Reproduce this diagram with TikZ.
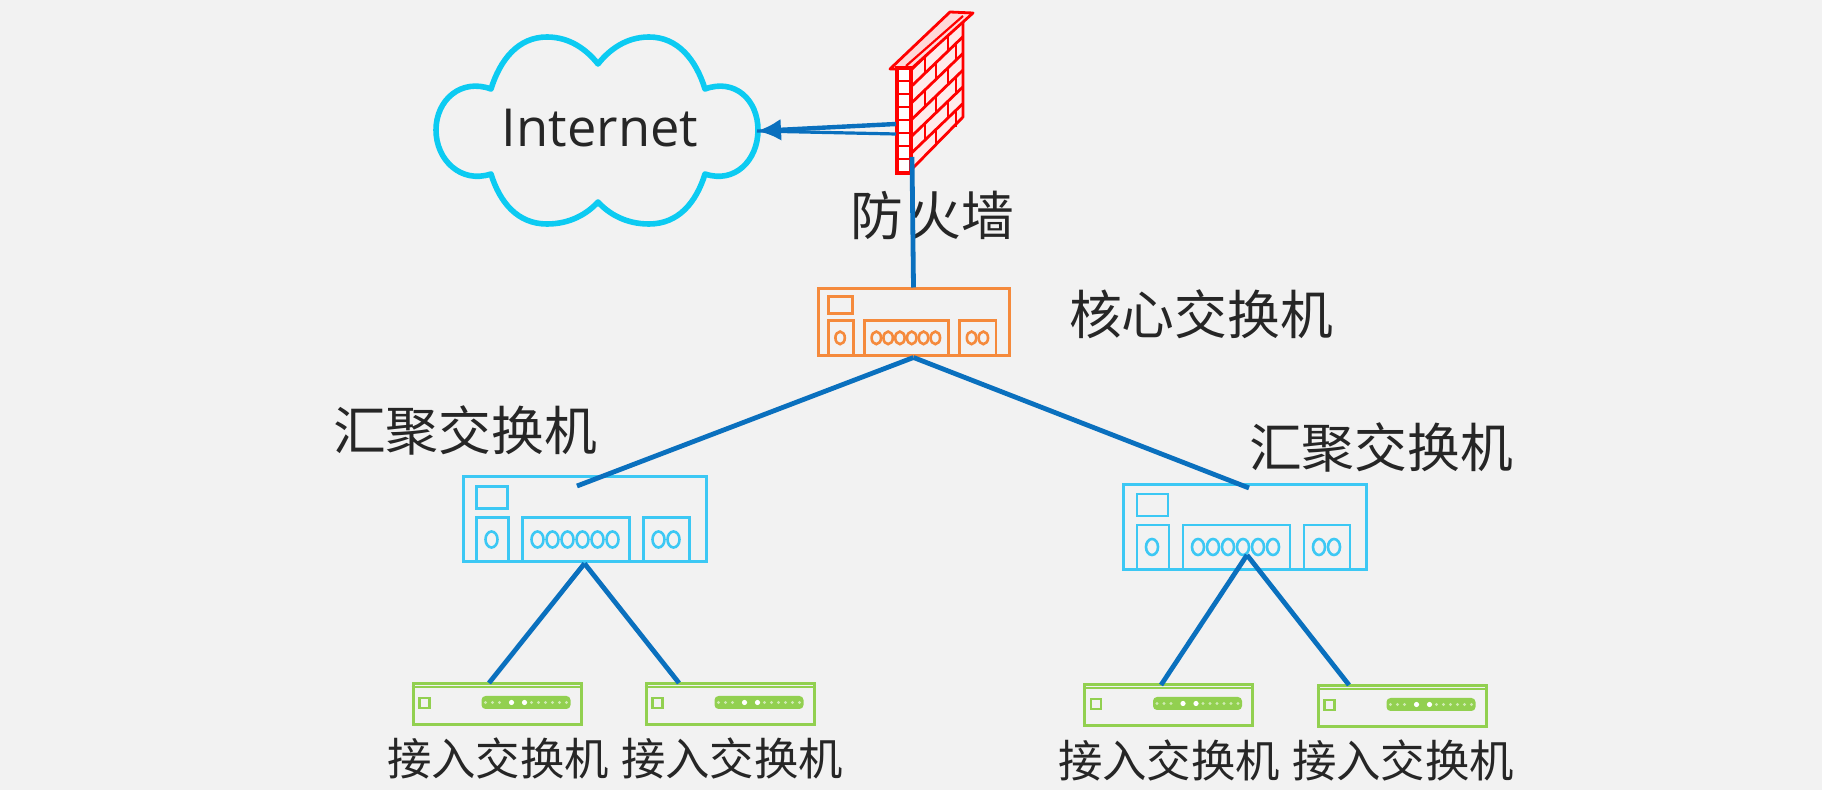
\documentclass[tikz,border=0pt]{standalone}
\usepackage{fontspec}
\setmainfont{Open Sans}
\newfontfamily\cjk{Noto Sans CJK SC}
\usetikzlibrary{arrows.meta}

\definecolor{bgcol}{HTML}{F2F2F2}
\definecolor{linkcol}{HTML}{0A70BE}
\definecolor{cloudcol}{HTML}{0CCBF2}
\definecolor{corecol}{HTML}{F58A3C}
\definecolor{aggcol}{HTML}{3CC8F4}
\definecolor{acccol}{HTML}{92D050}
\definecolor{txtcol}{HTML}{262626}

\tikzset{
  link/.style={draw=linkcol,line width=2.4pt},
  corebox/.style={draw=corecol,line width=1.5pt,minimum width=95.5pt,minimum height=33.5pt,inner sep=0pt},
  aggbox/.style={draw=aggcol,line width=1.5pt,minimum width=121.5pt,minimum height=42.5pt,inner sep=0pt},
  accbox/.style={draw=acccol,line width=1.5pt,minimum width=84pt,minimum height=20.5pt,inner sep=0pt},
  lbl/.style={font=\cjk\fontsize{26.4pt}{30pt}\selectfont,text=txtcol,inner sep=0pt},
  acclbl/.style={font=\cjk\fontsize{22.2pt}{26pt}\selectfont,text=txtcol,inner sep=0pt},
  bigswitch/.pic={
    \draw[line width=1.4pt] (15,11) rectangle (46,33);
    \draw[line width=1.4pt] (15,85) -- (15,42) -- (47,42) -- (47,85);
    \draw[line width=1.4pt] (61,85) -- (61,42) -- (168,42) -- (168,85);
    \draw[line width=1.4pt] (182,85) -- (182,42) -- (228,42) -- (228,85);
    \foreach \px in {30,76,91,106,121,136,151,197,212}
      \draw[line width=1.3pt] (\px,64) ellipse (6 and 8);
  },
  smallswitch/.pic={
    \draw[line width=.8pt] (0,5) -- (168,5);
    \draw[line width=1.2pt,fill=bgcol] (8,16) rectangle (18,26);
    \fill[rounded corners=2pt] (70,14) rectangle (159,27);
    \foreach \px in {74,81,88,120,127,134,141,148,155}
      \fill[white!55!acccol] (\px,20.5) circle (1.6);
    \foreach \px in {100,113}
      \fill[white] (\px,20.5) circle (2.6);
  }
}

\begin{document}
\begin{tikzpicture}[x=0.5pt,y=-0.5pt]
  \fill[bgcol] (0,0) rectangle (1822,790);
  \useasboundingbox (0,0) rectangle (1822,790);

  % Cloud
  \draw[cloudcol,line width=2.8pt,line join=round]
    (491,89) .. controls (500,60) and (518,37) .. (547,37)
    .. controls (570,37) and (587,50) .. (598,64)
    .. controls (609,50) and (626,37) .. (649,37)
    .. controls (678,37) and (696,60) .. (705,89)
    .. controls (735,78) and (758,100) .. (758,130)
    .. controls (758,160) and (735,184) .. (705,174)
    .. controls (696,203) and (678,224) .. (649,224)
    .. controls (626,224) and (609,214) .. (598,202)
    .. controls (587,214) and (570,224) .. (547,224)
    .. controls (518,224) and (500,203) .. (491,174)
    .. controls (461,184) and (436,160) .. (436,130)
    .. controls (436,100) and (461,78) .. (491,89) -- cycle;
  \node[font=\fontsize{26.2pt}{30pt}\selectfont,text=txtcol,inner sep=0pt] (internet) at (600,128) {Internet};
  \coordinate (cloudport) at (757,131);

  % Firewall
  \draw[red,line width=1.4pt,fill=white!92!red,line join=round]
    (911,70) -- (963,20) -- (963,117) -- (911,170) -- cycle;
  \foreach \k in {1,...,5}
    \draw[red,line width=1.4pt] (911,70+\k*16.7) -- (963,20+\k*16.7);
  \foreach \k/\xa/\xb in {0/925/948,1/936/956,2/925/948,3/936/956,4/925/948,5/936/956}
    \draw[red,line width=1.2pt]
      (\xa,70+\k*16.7-\xa*0.96+911*0.96) -- ++(0,16.7)
      (\xb,70+\k*16.7-\xb*0.96+911*0.96) -- ++(0,16.7);
  \draw[red,line width=1.4pt,fill=white!85!red,line join=round]
    (890,69) -- (950,12) -- (973,13) -- (911,69) -- cycle;
  \draw[red,line width=1.1pt] (906,66) -- (963,16);
  \draw[red,line width=1.6pt,fill=white] (897,68) rectangle (911,173);
  \foreach \k in {1,...,7}
    \draw[red,line width=1.2pt] (897,68+\k*13) -- (911,68+\k*13);
  \coordinate (fwporta) at (896,124);
  \coordinate (fwportb) at (896,134);
  \coordinate (fwbase) at (912,157);
  \node[lbl] (fwlabel) at (932,215) {防\hspace{.1em}火墙};

  % Switches
  \node[corebox] (core) at (913.5,322.5) {};
  \node[aggbox] (aggl) at (584.5,519.5) {};
  \node[aggbox] (aggr) at (1245,527) {};
  \node[accbox] (acca) at (497,704) {};
  \node[accbox] (accb) at (730,704) {};
  \node[accbox] (accc) at (1168.5,705) {};
  \node[accbox] (accd) at (1402,706) {};
  \pic[color=corecol,scale=.787] at (core.north west) {bigswitch};
  \pic[color=aggcol] at (aggl.north west) {bigswitch};
  \pic[color=aggcol] at (aggr.north west) {bigswitch};
  \pic[color=acccol] at (acca.north west) {smallswitch};
  \pic[color=acccol] at (accb.north west) {smallswitch};
  \pic[color=acccol] at (accc.north west) {smallswitch};
  \pic[color=acccol] at (accd.north west) {smallswitch};
  \coordinate (agglin) at (577,486);
  \coordinate (aggrin) at (1249,488);
  \coordinate (aggrout) at (1247,555);
  \coordinate (accain) at (489,683);
  \coordinate (accbin) at (679,683);
  \coordinate (acccin) at (1161,685);
  \coordinate (accdin) at (1349,685);

  % Links
  \draw[link,line width=2.2pt,-{Latex[length=12pt,width=11pt]}] (fwporta) -- (cloudport);
  \draw[link,line width=1.6pt] (fwportb) -- (cloudport);
  \draw[link] (fwbase) -- (core.north);
  \draw[link] (core.south) -- (agglin);
  \draw[link] (core.south) -- (aggrin);
  \draw[link] (aggl.south) -- (accain);
  \draw[link] (aggl.south) -- (accbin);
  \draw[link] (aggrout) -- (acccin);
  \draw[link] (aggrout) -- (accdin);

  % Labels
  \node[lbl] (corelabel) at (1201,314) {核心交换机};
  \node[lbl] (agglabell) at (465,430) {汇聚交换机};
  \node[lbl] (agglabelr) at (1381,447) {汇聚交换机};
  \node[acclbl] (acclabela) at (498,758) {接入交换机};
  \node[acclbl] (acclabelb) at (732,758) {接入交换机};
  \node[acclbl] (acclabelc) at (1169,760) {接入交换机};
  \node[acclbl] (acclabeld) at (1403,760) {接入交换机};
\end{tikzpicture}
\end{document}
